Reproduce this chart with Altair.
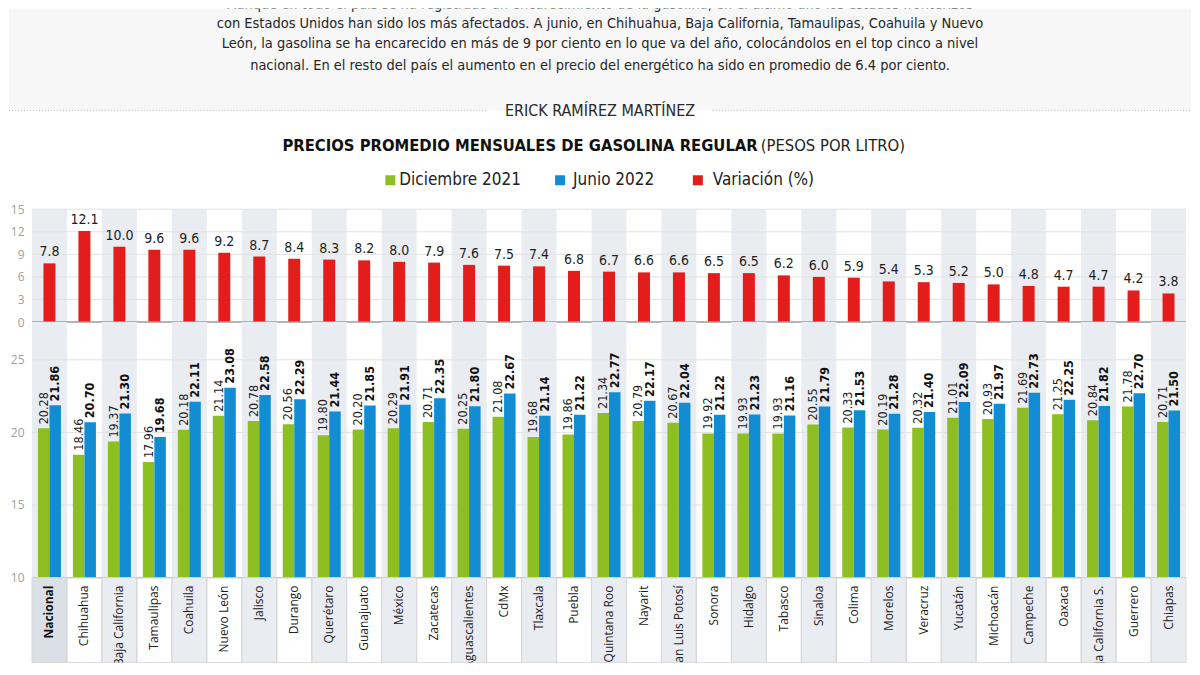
import altair as alt
import pandas as pd

# ---------------- data ----------------
estados = ["Nacional", "Chihuahua", "Baja California", "Tamaulipas", "Coahuila", "Nuevo León",
           "Jalisco", "Durango", "Querétaro", "Guanajuato", "México", "Zacatecas",
           "Aguascalientes", "CdMx", "Tlaxcala", "Puebla", "Quintana Roo", "Nayarit",
           "San Luis Potosí", "Sonora", "Hidalgo", "Tabasco", "Sinaloa", "Colima",
           "Morelos", "Veracruz", "Yucatán", "Michoacán", "Campeche", "Oaxaca",
           "Baja California S.", "Guerrero", "Chiapas"]
variacion = [7.8, 12.1, 10.0, 9.6, 9.6, 9.2, 8.7, 8.4, 8.3, 8.2, 8.0, 7.9, 7.6, 7.5, 7.4, 6.8,
             6.7, 6.6, 6.6, 6.5, 6.5, 6.2, 6.0, 5.9, 5.4, 5.3, 5.2, 5.0, 4.8, 4.7, 4.7, 4.2, 3.8]
dic2021 = [20.28, 18.46, 19.37, 17.96, 20.18, 21.14, 20.78, 20.56, 19.80, 20.20, 20.29, 20.71,
           20.25, 21.08, 19.68, 19.86, 21.34, 20.79, 20.67, 19.92, 19.93, 19.93, 20.55, 20.33,
           20.19, 20.32, 21.01, 20.93, 21.69, 21.25, 20.84, 21.78, 20.71]
jun2022 = [21.86, 20.70, 21.30, 19.68, 22.11, 23.08, 22.58, 22.29, 21.44, 21.85, 21.91, 22.35,
           21.80, 22.67, 21.14, 21.22, 22.77, 22.17, 22.04, 21.22, 21.23, 21.16, 21.79, 21.53,
           21.28, 21.40, 22.09, 21.97, 22.73, 22.25, 21.82, 22.70, 21.50]
series = ["Diciembre 2021", "Junio 2022", "Variación (%)"]
ticks_var = [0, 3, 6, 9, 12, 15]
ticks_precio = [10, 15, 20, 25]

parrafo = [
    "Aunque en todo el país se ha registrado un encarecimiento de la gasolina, en el último año los estados fronterizos",
    "con Estados Unidos han sido los más afectados. A junio, en Chihuahua, Baja California, Tamaulipas, Coahuila y Nuevo",
    "León, la gasolina se ha encarecido en más de 9 por ciento en lo que va del año, colocándolos en el top cinco a nivel",
    "nacional. En el resto del país el aumento en el precio del energético ha sido en promedio de 6.4 por ciento.",
]
autor = "ERICK RAMÍREZ MARTÍNEZ"
titulo_bold = "PRECIOS PROMEDIO MENSUALES DE GASOLINA REGULAR"
titulo_reg = "(PESOS POR LITRO)"

# ---------------- style ----------------
VERDE, AZUL, ROJO = "#8dbf22", "#128dd3", "#e21d1b"
SOMBRA, SOMBRA_NAC = "#e9ecf1", "#dbe0e7"
FCOND = "'DejaVu Sans Condensed', 'Liberation Sans Narrow', sans-serif"
FONT = "'Open Sans', sans-serif"
W = 1156
H0, H1, H2, H3 = 201, 113, 256, 85

cats = pd.DataFrame({"estado": estados, "idx": list(range(len(estados))), "variacion": variacion})
largo = pd.DataFrame({
    "estado": estados * 2,
    "serie": [series[0]] * len(estados) + [series[1]] * len(estados),
    "precio": dic2021 + jun2022,
})


def xenc():
    return alt.X("estado:N", sort=estados,
                 scale=alt.Scale(domain=estados, paddingInner=0, paddingOuter=0), axis=None)


def shade(h, nac_dark=False):
    even = alt.Chart(cats).transform_filter("datum.idx % 2 == 0").mark_rect(color=SOMBRA).encode(
        x=xenc(), y=alt.value(0), y2=alt.value(h))
    layers = [even]
    if nac_dark:
        layers.append(alt.Chart(cats).transform_filter("datum.idx == 0").mark_rect(color=SOMBRA_NAC).encode(
            x=xenc(), y=alt.value(0), y2=alt.value(h)))
    return layers


# ---------------- header ----------------
one = pd.DataFrame({"a": [0]})


def htext(txt, x, y, size, weight="normal", align="center", font=FCOND, color="#1e1e1e", clip=False):
    return alt.Chart(pd.DataFrame({"t": [txt]})).mark_text(
        fontSize=size, fontWeight=weight, align=align, baseline="middle", font=font,
        color=color, clip=clip).encode(text="t:N", x=alt.value(x), y=alt.value(y))


hdr_layers = [
    alt.Chart(one).mark_rect(color="#f7f7f7").encode(
        x=alt.value(-23), x2=alt.value(1161), y=alt.value(0), y2=alt.value(102)),
]
py = [-4, 15, 36, 58]
for i, line in enumerate(parrafo):
    hdr_layers.append(htext(line, 569, py[i], 14.5, clip=(i == 0), color="#262626"))
hdr_layers += [
    alt.Chart(one).mark_rule(color="#bdbdbd", strokeDash=[1, 2]).encode(
        x=alt.value(-23), x2=alt.value(457), y=alt.value(102)),
    alt.Chart(one).mark_rule(color="#bdbdbd", strokeDash=[1, 2]).encode(
        x=alt.value(682), x2=alt.value(1161), y=alt.value(102)),
    htext(autor, 569, 103, 16, color="#2a2a2a"),
    htext(titulo_bold, 727, 138, 16.5, weight="bold", align="right", color="#111"),
    htext(titulo_reg, 730, 138, 16.5, align="left", color="#222"),
]
leg_sq = [354, 524, 662]
leg_tx = [368, 542, 682]
leg_col = [VERDE, AZUL, ROJO]
for i, s in enumerate(series):
    hdr_layers.append(alt.Chart(one).mark_rect(color=leg_col[i]).encode(
        x=alt.value(leg_sq[i]), x2=alt.value(leg_sq[i] + 10), y=alt.value(167), y2=alt.value(177)))
    hdr_layers.append(htext(s, leg_tx[i], 172, 17, align="left", color="#222"))
header = alt.layer(*hdr_layers).properties(width=W, height=H0)


def yaxis(vals):
    return alt.Axis(values=vals, grid=False, ticks=False, domain=False, labelColor="#a0a0a0",
                    labelFontSize=12, labelFont=FONT, labelPadding=8, title=None,
                    minExtent=23, maxExtent=23)


# ---------------- top panel: variación ----------------
y1 = alt.Scale(domain=[0, 15], nice=False, zero=True)
grid1 = alt.Chart(pd.DataFrame({"variacion": ticks_var[1:]})).mark_rule(color="#e2e2e2", strokeWidth=1).encode(
    y=alt.Y("variacion:Q", scale=y1, axis=yaxis(ticks_var)))
base1 = alt.Chart(pd.DataFrame({"variacion": ticks_var[:1]})).mark_rule(color="#9c9c9c", strokeWidth=1.5).encode(
    y=alt.Y("variacion:Q", scale=y1, axis=yaxis(ticks_var)))
bars1 = alt.Chart(cats).mark_bar(color=ROJO, width=12).encode(
    x=xenc(), y=alt.Y("variacion:Q", scale=y1, axis=yaxis(ticks_var)))
lab1 = alt.Chart(cats).mark_text(baseline="bottom", dy=-4, fontSize=14, font=FCOND, color="#1e1e1e").encode(
    x=xenc(), y=alt.Y("variacion:Q", scale=y1, axis=yaxis(ticks_var)),
    text=alt.Text("variacion:Q", format=".1f"))
top = alt.layer(*shade(H1), grid1, bars1, base1, lab1).properties(width=W, height=H1)

# ---------------- bottom panel: precios ----------------
y2 = alt.Scale(domain=[10, 27.6], nice=False, zero=False)
grid2 = alt.Chart(pd.DataFrame({"precio": ticks_precio[1:]})).mark_rule(color="#e2e2e2", strokeWidth=1).encode(
    y=alt.Y("precio:Q", scale=y2, axis=yaxis(ticks_precio)))
base2 = alt.Chart(pd.DataFrame({"precio": ticks_precio[:1]})).mark_rule(color="#a8a8a8", strokeWidth=1.2).encode(
    y=alt.Y("precio:Q", scale=y2, axis=yaxis(ticks_precio)))
xoff = alt.XOffset("serie:N", sort=series[:2],
                   scale=alt.Scale(domain=series[:2], paddingInner=0, paddingOuter=0.52))
bars2 = alt.Chart(largo).mark_bar().encode(
    x=xenc(), xOffset=xoff,
    y=alt.Y("precio:Q", scale=y2, axis=yaxis(ticks_precio)), y2=alt.datum(10),
    color=alt.Color("serie:N", scale=alt.Scale(domain=series, range=[VERDE, AZUL, ROJO]), legend=None))
lab_dic = alt.Chart(largo).transform_filter(alt.datum.serie == series[0]).mark_text(
    angle=270, align="left", baseline="middle", dx=4, fontSize=12.5, font=FCOND, color="#1e1e1e").encode(
    x=xenc(), xOffset=xoff, y=alt.Y("precio:Q", scale=y2, axis=yaxis(ticks_precio)),
    text=alt.Text("precio:Q", format=".2f"))
lab_jun = alt.Chart(largo).transform_filter(alt.datum.serie == series[1]).mark_text(
    angle=270, align="left", baseline="middle", dx=4, fontSize=12.5, font=FCOND, fontWeight="bold",
    color="#111").encode(
    x=xenc(), xOffset=xoff, y=alt.Y("precio:Q", scale=y2, axis=yaxis(ticks_precio)),
    text=alt.Text("precio:Q", format=".2f"))
bottom = alt.layer(*shade(H2), grid2, bars2, base2, lab_dic, lab_jun).properties(width=W, height=H2)

# ---------------- category label panel ----------------
cells = alt.Chart(cats).mark_rect(fillOpacity=0, stroke="#d4d4d4", strokeWidth=0.8).encode(
    x=xenc(), y=alt.value(0), y2=alt.value(H3))
names = alt.Chart(cats).transform_filter("datum.idx > 0").mark_text(
    angle=270, align="right", baseline="middle", fontSize=12, font=FONT, color="#222", clip=True).encode(
    x=xenc(), y=alt.value(8), text="estado:N")
name_nac = alt.Chart(cats).transform_filter("datum.idx == 0").mark_text(
    angle=270, align="right", baseline="middle", fontSize=12, font=FONT, fontWeight="bold",
    color="#111", clip=True).encode(
    x=xenc(), y=alt.value(8), text="estado:N")
labels = alt.layer(*shade(H3, nac_dark=True), cells, names, name_nac).properties(width=W, height=H3)

chart = alt.vconcat(header, top, bottom, labels, spacing=0, bounds="flush").resolve_scale(
    color="independent").properties(padding=0, background="white").configure_view(stroke=None)

chart.save("out.html", embed_options={"renderer": "svg", "actions": False})
